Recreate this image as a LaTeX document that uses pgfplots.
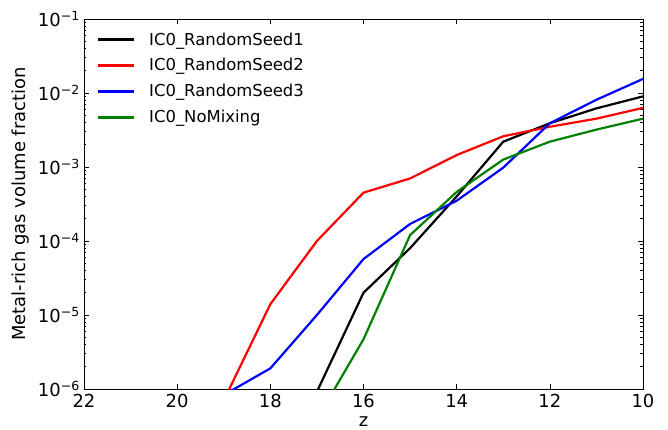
\documentclass[border=0pt]{standalone}
\usepackage{fontspec}
\setmainfont{DejaVu Sans}
\usepackage{pgfplots}
\pgfplotsset{compat=1.18}
\definecolor{mplgreen}{rgb}{0,0.5,0}
\begin{document}
\begin{tikzpicture}
\useasboundingbox (-84bp,-41bp) rectangle (584bp,389bp);
\begin{axis}[
  at={(0,0)}, anchor=south west,
  scale only axis, width=559bp, height=370bp,
  x dir=reverse, xmin=10, xmax=22,
  ymode=log, ymin=1e-6, ymax=1e-1,
  xtick={10,12,14,16,18,20,22},
  ytick={1e-6,1e-5,1e-4,1e-3,1e-2,1e-1},
  yticklabels={10\textsuperscript{−6},10\textsuperscript{−5},10\textsuperscript{−4},10\textsuperscript{−3},10\textsuperscript{−2},10\textsuperscript{−1}},
  /pgf/number format/assume math mode=true,
  tick align=inside,
  major tick length=5bp, minor tick length=2.5bp,
  tick style={black, line width=0.6bp},
  axis line style={line width=0.9bp},
  ticklabel style={font=\fontsize{18}{21}\selectfont},
  xticklabel style={inner sep=0pt, yshift=-5bp, anchor=north},
  yticklabel style={inner sep=0pt, xshift=-4bp, anchor=east},
  xlabel={z}, ylabel={Metal-rich gas volume fraction},
  label style={font=\fontsize{18}{21}\selectfont},
  xlabel style={at={(axis description cs:0.5,0)}, anchor=center, yshift=-33bp},
  ylabel style={at={(axis description cs:0,0.5)}, anchor=center, xshift=0bp, yshift=63bp},
  legend style={draw=none, fill=none, at={(0.023,0.964)}, anchor=north west,
    font=\fontsize{16.5}{19}\selectfont, row sep=12bp, inner sep=0pt,
    nodes={inner sep=0pt}, cells={anchor=west}},
  legend cell align=left,
  legend image code/.code={\draw[#1, line width=2.2bp] (0bp,0bp) -- (36bp,0bp);},
  every axis plot/.append style={line width=2.2bp},
]
\addplot[black] coordinates {(17,9.2e-7) (16,2e-5) (15,8e-5) (14,4e-4) (13,2.2e-3) (12,3.9e-3) (11,6.2e-3) (10,9e-3)};
\addlegendentry{\hspace{14bp}IC0\_RandomSeed1}
\addplot[red] coordinates {(19,7e-7) (18,1.4e-5) (17,1e-4) (16,4.5e-4) (15,7e-4) (14,1.45e-3) (13,2.6e-3) (12,3.5e-3) (11,4.5e-3) (10,6.3e-3)};
\addlegendentry{\hspace{14bp}IC0\_RandomSeed2}
\addplot[blue] coordinates {(19,8.3e-7) (18,1.9e-6) (17,1e-5) (16,5.7e-5) (15,1.7e-4) (14,3.5e-4) (13,9.8e-4) (12,3.9e-3) (11,8.1e-3) (10,1.55e-2)};
\addlegendentry{\hspace{14bp}IC0\_RandomSeed3}
\addplot[mplgreen] coordinates {(17,3.9e-7) (16,4.7e-6) (15,1.2e-4) (14,4.6e-4) (13,1.26e-3) (12,2.2e-3) (11,3.2e-3) (10,4.5e-3)};
\addlegendentry{\hspace{14bp}IC0\_NoMixing}
\end{axis}
\end{tikzpicture}
\end{document}
